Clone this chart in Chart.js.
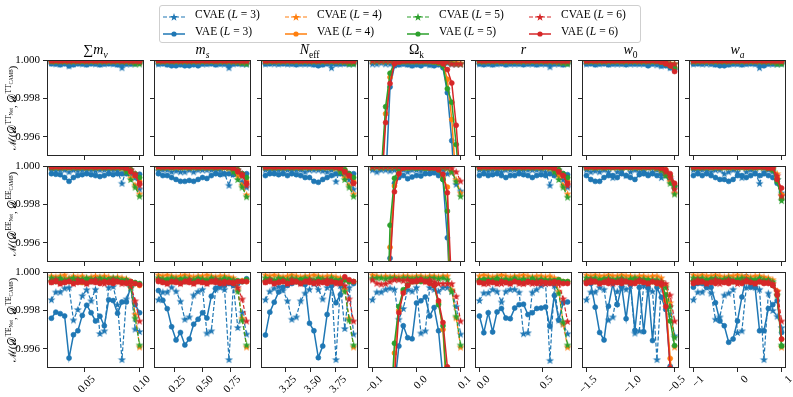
<!DOCTYPE html>
<html><head><meta charset="utf-8">
<script src="https://cdn.jsdelivr.net/npm/chart.js@4.4.1/dist/chart.umd.min.js"></script>
<style>
html,body{margin:0;padding:0;background:#fff;width:793px;height:397px;overflow:hidden;font-family:"Liberation Serif","DejaVu Serif",serif;color:#000;position:relative}
canvas{position:absolute}
.title{position:absolute;text-align:center;font-size:14px;line-height:16px;white-space:nowrap;width:97px}
.ylab{position:absolute;width:150px;height:16px;line-height:16px;text-align:center;font-size:11px;transform:rotate(-90deg);white-space:nowrap}
#legend{position:absolute;left:159px;top:5px;width:480px;height:36px;border:1px solid #cfcfcf;border-radius:3px;background:#fff}
.lg{position:absolute;font-size:11.5px;line-height:13px;white-space:nowrap}
.lgm{position:absolute}
sub,sup{font-size:68%;line-height:0}
</style></head><body>
<div id="legend"></div>
<script>
// ---------------- DATA ----------------
const SERIES = ['CVAE (L = 3)','VAE (L = 3)','CVAE (L = 4)','VAE (L = 4)','CVAE (L = 5)','VAE (L = 5)','CVAE (L = 6)','VAE (L = 6)'];
const LEVELS = [3,4,5,6];
const ROW_SPECTRA = ['TT','EE','TE'];
const PARAM_TITLES = ['∑<i>m</i><sub><i>ν</i></sub>','<i>m</i><sub><i>s</i></sub>','<i>N</i><sub>eff</sub>','Ω<sub>k</sub>','<i>r</i>','<i>w</i><sub>0</sub>','<i>w</i><sub><i>a</i></sub>'];

const X_MNU = [0.02,0.024,0.028,0.032,0.036,0.04,0.044,0.048,0.052,0.056,0.06,0.064,0.068,0.072,0.076,0.08,0.084,0.088,0.092,0.096,0.1];
const X_MS = [0.1,0.14,0.18,0.22,0.26,0.3,0.34,0.38,0.42,0.46,0.5,0.54,0.58,0.62,0.66,0.7,0.74,0.78,0.82,0.86,0.9];
const X_NEFF = [3.046,3.09,3.134,3.178,3.222,3.266,3.31,3.354,3.398,3.442,3.486,3.53,3.574,3.618,3.662,3.706,3.75,3.794,3.838,3.882,3.926];
const X_OK = [-0.1,-0.09,-0.08,-0.07,-0.06,-0.05,-0.04,-0.03,-0.02,-0.01,0,0.01,0.02,0.03,0.04,0.05,0.06,0.07,0.08,0.09,0.1];
const X_R = [0,0.035,0.07,0.105,0.14,0.175,0.21,0.245,0.28,0.315,0.35,0.385,0.42,0.455,0.49,0.525,0.56,0.595,0.63,0.665,0.7];
const X_W0 = [-1.5,-1.45,-1.4,-1.35,-1.3,-1.25,-1.2,-1.15,-1.1,-1.05,-1,-0.95,-0.9,-0.85,-0.8,-0.75,-0.7,-0.65,-0.6,-0.55,-0.5];
const X_WA = [-1,-0.9,-0.8,-0.7,-0.6,-0.5,-0.4,-0.3,-0.2,-0.1,0,0.1,0.2,0.3,0.4,0.5,0.6,0.7,0.8,0.9,1];

const X_RANGES = [[0.016,0.104],[0.06,0.94],[3.002,3.97],[-0.11,0.11],[-0.035,0.735],[-1.55,-0.45],[-1.1,1.1]];
const X_TICKS = [[0.05,0.10],[0.25,0.5,0.75],[3.25,3.5,3.75],[-0.1,0,0.1],[0,0.5],[-1.5,-1,-0.5],[-1,0,1]];
const X_TICK_LABELS = [['0.05','0.10'],['0.25','0.50','0.75'],['3.25','3.50','3.75'],['−0.1','0.0','0.1'],['0.0','0.5'],['−1.5','−1.0','−0.5'],['−1','0','1']];
const Y_RANGE = [0.995,1.0];
const Y_TICKS = [0.996,0.998,1.0];
const Y_TICK_LABELS = ['0.996','0.998','1.000'];

// series order in each panel: CVAE3, VAE3, CVAE4, VAE4, CVAE5, VAE5, CVAE6, VAE6
// ---- TT row ----
const TT_MNU = [
[.99985,.9998,.9998,.99985,.9997,.9998,.99985,.9998,.9998,.99985,.9998,.9998,.9998,.99985,.9998,.9998,.9996,.9998,.9998,.99985,.9999],
[.9998,.9998,.99975,.9998,.9997,.99975,.9998,.9998,.99975,.9998,.9998,.99975,.9998,.9998,.9998,.99975,.99975,.9998,.9998,.9998,.99985],
[.99995,.99996,.99997,.99995,.99996,.99995,.99997,.99996,.99995,.99996,.99997,.99995,.99996,.99995,.99996,.99995,.99996,.99994,.99993,.99992,.9999],
[.99993,.99994,.99993,.99994,.99993,.99994,.99993,.99994,.99993,.99994,.99993,.99994,.99993,.99994,.99993,.99994,.99993,.99994,.99993,.99993,.99992],
[.99996,.99995,.99996,.99995,.99996,.99995,.99996,.99995,.99996,.99995,.99996,.99995,.99996,.99995,.99996,.99995,.99995,.99993,.99991,.9998,.9998],
[.99994,.99995,.99994,.99995,.99994,.99995,.99994,.99995,.99994,.99995,.99994,.99995,.99994,.99995,.99994,.99995,.99994,.99995,.99994,.99993,.99993],
[.99997,.99998,.99997,.99998,.99997,.99998,.99997,.99998,.99997,.99998,.99997,.99998,.99997,.99998,.99997,.99998,.99997,.99997,.99996,.99995,.99994],
[.99996,.99997,.99996,.99997,.99996,.99997,.99996,.99997,.99996,.99997,.99996,.99997,.99996,.99997,.99996,.99997,.99996,.99997,.99996,.99996,.99995]];
const TT_MS = [
[.9998,.99985,.9998,.9998,.99985,.9998,.9998,.9998,.99985,.9998,.9998,.9998,.99985,.9998,.9998,.9998,.9996,.9998,.99985,.9998,.9998],
[.9998,.9998,.99975,.9997,.9997,.99975,.9997,.9997,.99975,.9997,.9998,.9998,.9998,.99975,.9998,.9998,.9997,.9998,.9998,.9998,.9998],
[.99996,.99995,.99996,.99997,.99995,.99996,.99995,.99997,.99996,.99995,.99996,.99995,.99997,.99996,.99995,.99996,.99995,.99994,.99992,.9999,.9999],
[.99994,.99993,.99994,.99993,.99994,.99993,.99994,.99993,.99994,.99993,.99994,.99993,.99994,.99993,.99994,.99993,.99994,.99993,.99994,.99993,.99993],
[.99995,.99996,.99995,.99996,.99995,.99996,.99995,.99996,.99995,.99996,.99995,.99996,.99995,.99996,.99995,.99996,.99995,.99994,.9999,.99985,.9998],
[.99995,.99994,.99995,.99994,.99995,.99994,.99995,.99994,.99995,.99994,.99995,.99994,.99995,.99994,.99995,.99994,.99995,.99994,.99995,.99994,.99993],
[.99998,.99997,.99998,.99997,.99998,.99997,.99998,.99997,.99998,.99997,.99998,.99997,.99998,.99997,.99998,.99997,.99998,.99997,.99996,.99995,.99995],
[.99997,.99996,.99997,.99996,.99997,.99996,.99997,.99996,.99997,.99996,.99997,.99996,.99997,.99996,.99997,.99996,.99997,.99996,.99997,.99996,.99996]];
const TT_NEFF = [
[.9998,.99985,.9998,.9998,.99985,.9998,.9998,.99985,.9998,.9998,.9998,.9998,.9998,.9998,.99985,.9996,.9998,.9998,.99985,.9998,.99985],
[.9998,.9998,.99985,.9998,.9998,.9998,.9998,.99975,.9998,.9998,.9998,.99975,.9997,.99975,.9998,.9998,.9998,.9998,.9998,.9998,.9998],
[.99995,.99996,.99997,.99995,.99996,.99995,.99997,.99996,.99995,.99996,.99997,.99995,.99996,.99995,.99996,.99995,.99996,.99994,.99993,.99991,.9999],
[.99993,.99994,.99993,.99994,.99993,.99994,.99993,.99994,.99993,.99994,.99993,.99994,.99993,.99994,.99993,.99994,.99993,.99994,.99993,.99993,.99992],
[.99996,.99995,.99996,.99995,.99996,.99995,.99996,.99995,.99996,.99995,.99996,.99995,.99996,.99995,.99996,.99995,.99995,.99993,.9999,.9998,.9998],
[.99994,.99995,.99994,.99995,.99994,.99995,.99994,.99995,.99994,.99995,.99994,.99995,.99994,.99995,.99994,.99995,.99994,.99995,.99994,.99993,.99993],
[.99997,.99998,.99997,.99998,.99997,.99998,.99997,.99998,.99997,.99998,.99997,.99998,.99997,.99998,.99997,.99998,.99997,.99997,.99996,.99995,.99994],
[.99996,.99997,.99996,.99997,.99996,.99997,.99996,.99997,.99996,.99997,.99996,.99997,.99996,.99997,.99996,.99997,.99996,.99997,.99996,.99996,.99995]];
const TT_OK = [
[.9998,.9998,.99985,.9998,.9998,.99975,.9998,.9998,.9998,.99975,.9998,.9998,.9998,.99975,.9998,.9998,.9998,.99985,.9998,.9998,.9998],
[.980,.985,.989,.9935,.9986,.9997,.99975,.9998,.99975,.9997,.99975,.9997,.9998,.99975,.9997,.99975,.9996,.9983,.9958,.992,.988],
[.99995,.99996,.99995,.99996,.99995,.99996,.99995,.99996,.99995,.99996,.99995,.99996,.99995,.99996,.99995,.99996,.99995,.99994,.9999,.9999,.99985],
[.983,.988,.9935,.9972,.9991,.99985,.9999,.99992,.99993,.99992,.99993,.99992,.99993,.99992,.9999,.99985,.9998,.999,.9969,.9935,.990],
[.99996,.99995,.99996,.99995,.99996,.99995,.99996,.99995,.99996,.99995,.99996,.99995,.99996,.99995,.99996,.99995,.99994,.9999,.99985,.9998,.9998],
[.984,.989,.9942,.99757,.99931,.99985,.9999,.99993,.99992,.99993,.99992,.99993,.99992,.99993,.9999,.99985,.9997,.9985,.9978,.9956,.993],
[.99997,.99998,.99997,.99998,.99997,.99998,.99997,.99998,.99997,.99998,.99997,.99998,.99997,.99998,.99997,.99998,.99996,.9999,.9998,.9998,.9998],
[.982,.987,.993,.99674,.99878,.9998,.9999,.99995,.99996,.99995,.99996,.99995,.99996,.99995,.99994,.9999,.9998,.9995,.9988,.9966,.9935]];
const TT_R = [
[.9998,.99985,.9998,.9998,.9998,.99985,.9998,.9998,.9998,.9998,.99985,.9998,.9998,.9998,.9998,.9998,.99965,.9998,.9998,.9998,.99985],
[.9998,.99975,.9998,.99975,.9998,.9998,.99975,.9998,.9998,.9998,.99975,.9998,.9998,.99975,.9998,.9998,.9998,.9998,.9998,.99975,.9998],
[.99996,.99995,.99996,.99997,.99995,.99996,.99995,.99997,.99996,.99995,.99996,.99995,.99997,.99996,.99995,.99996,.99995,.99994,.99992,.9999,.9999],
[.99994,.99993,.99994,.99993,.99994,.99993,.99994,.99993,.99994,.99993,.99994,.99993,.99994,.99993,.99994,.99993,.99994,.99993,.99994,.99993,.99993],
[.99995,.99996,.99995,.99996,.99995,.99996,.99995,.99996,.99995,.99996,.99995,.99996,.99995,.99996,.99995,.99996,.99995,.99994,.9999,.99985,.9998],
[.99995,.99994,.99995,.99994,.99995,.99994,.99995,.99994,.99995,.99994,.99995,.99994,.99995,.99994,.99995,.99994,.99995,.99994,.99995,.99994,.99993],
[.99998,.99997,.99998,.99997,.99998,.99997,.99998,.99997,.99998,.99997,.99998,.99997,.99998,.99997,.99998,.99997,.99998,.99997,.99996,.99995,.99995],
[.99997,.99996,.99997,.99996,.99997,.99996,.99997,.99996,.99997,.99996,.99997,.99996,.99997,.99996,.99997,.99996,.99997,.99996,.99997,.99996,.99996]];
const TT_W0 = [
[.9998,.99985,.9998,.9998,.99985,.9998,.9998,.9998,.9998,.99985,.9998,.9998,.9998,.9998,.9998,.9998,.99975,.9997,.9998,.9996,.9995],
[.9998,.9998,.99975,.9998,.9998,.99975,.9998,.9998,.9998,.99975,.9998,.9998,.9998,.9998,.9997,.9998,.9998,.9997,.9997,.9996,.9995],
[.99995,.99996,.99997,.99995,.99996,.99995,.99997,.99996,.99995,.99996,.99997,.99995,.99996,.99995,.99996,.99995,.99996,.99994,.9999,.99985,.9998],
[.99993,.99994,.99993,.99994,.99993,.99994,.99993,.99994,.99993,.99994,.99993,.99994,.99993,.99994,.99993,.99994,.99993,.9999,.99985,.9997,.9996],
[.99996,.99995,.99996,.99995,.99996,.99995,.99996,.99995,.99996,.99995,.99996,.99995,.99996,.99995,.99996,.99995,.99995,.99993,.9999,.9998,.9998],
[.99994,.99995,.99994,.99995,.99994,.99995,.99994,.99995,.99994,.99995,.99994,.99995,.99994,.99995,.99994,.99995,.99994,.9999,.9998,.9997,.9996],
[.99997,.99998,.99997,.99998,.99997,.99998,.99997,.99998,.99997,.99998,.99997,.99998,.99997,.99998,.99997,.99998,.99997,.99995,.9999,.9998,.9998],
[.99996,.99997,.99996,.99997,.99996,.99997,.99996,.99997,.99996,.99997,.99996,.99997,.99996,.99997,.99996,.99997,.99995,.9999,.9998,.9997,.9994]];
const TT_WA = [
[.9998,.99985,.9998,.9998,.9998,.9998,.99985,.9998,.9998,.9998,.9998,.9998,.9998,.99985,.9998,.9996,.9998,.9998,.9998,.9998,.99985],
[.9998,.9998,.9998,.99985,.9998,.99975,.9997,.9997,.99975,.9998,.9998,.99975,.9998,.9998,.9998,.99975,.9997,.9998,.9998,.9998,.9998],
[.99995,.99996,.99997,.99995,.99996,.99995,.99997,.99996,.99995,.99996,.99997,.99995,.99996,.99995,.99996,.99995,.99996,.99994,.99993,.99991,.9999],
[.99993,.99994,.99993,.99994,.99993,.99994,.99993,.99994,.99993,.99994,.99993,.99994,.99993,.99994,.99993,.99994,.99993,.99994,.99993,.99993,.99992],
[.99996,.99995,.99996,.99995,.99996,.99995,.99996,.99995,.99996,.99995,.99996,.99995,.99996,.99995,.99996,.99995,.99995,.99993,.9999,.9998,.9998],
[.99994,.99995,.99994,.99995,.99994,.99995,.99994,.99995,.99994,.99995,.99994,.99995,.99994,.99995,.99994,.99995,.99994,.99995,.99994,.99993,.99993],
[.99997,.99998,.99997,.99998,.99997,.99998,.99997,.99998,.99997,.99998,.99997,.99998,.99997,.99998,.99997,.99998,.99997,.99997,.99996,.99995,.99994],
[.99996,.99997,.99996,.99997,.99996,.99997,.99996,.99997,.99996,.99997,.99996,.99997,.99996,.99997,.99996,.99997,.99996,.99997,.99996,.99996,.99995]];
// ---- EE row ----
const EE_MNU = [
[.9998,.99975,.9998,.9998,.9997,.9998,.99975,.9998,.9998,.9998,.99975,.9998,.9998,.9998,.9998,.99975,.9991,.9998,.9998,.9994,.9988],
[.9996,.99957,.99955,.9994,.9992,.9994,.9995,.99955,.9996,.99955,.9995,.99945,.9995,.9996,.99955,.9996,.9996,.9996,.9996,.99955,.99957],
[.99995,.99996,.99995,.99996,.99995,.99996,.99995,.99996,.99995,.99996,.99995,.99996,.99995,.99996,.99995,.99996,.9999,.9998,.9994,.999,.99855],
[.99993,.99994,.99993,.99994,.99993,.99994,.99993,.99994,.99993,.99994,.99993,.99994,.99993,.99994,.99993,.99994,.99993,.9999,.9998,.9995,.9992],
[.99994,.99995,.99994,.99995,.99994,.99995,.99994,.99995,.99994,.99995,.99994,.99995,.99994,.99995,.99994,.99995,.9999,.9997,.9993,.9989,.99843],
[.99994,.99995,.99994,.99995,.99994,.99995,.99994,.99995,.99994,.99995,.99994,.99995,.99994,.99995,.99994,.99995,.99994,.9999,.9998,.9996,.9994],
[.99997,.99998,.99997,.99998,.99997,.99998,.99997,.99998,.99997,.99998,.99997,.99998,.99997,.99998,.99997,.99998,.99995,.9999,.9998,.9996,.999],
[.99996,.99997,.99996,.99997,.99996,.99997,.99996,.99997,.99996,.99997,.99996,.99997,.99996,.99997,.99996,.99997,.99996,.9999,.9997,.9995,.9991]];
const EE_MS = [
[.99975,.9998,.9998,.9997,.99975,.9997,.9997,.9998,.9997,.9998,.9998,.9998,.9998,.99975,.9998,.9996,.999,.9998,.9998,.9992,.9989],
[.9996,.9995,.9995,.9994,.9993,.9992,.9992,.99925,.9992,.9993,.9994,.99935,.9995,.9996,.99955,.9996,.9996,.99955,.9996,.9996,.9996],
[.99996,.99995,.99996,.99995,.99996,.99995,.99996,.99995,.99996,.99995,.99996,.99995,.99996,.99995,.99996,.99995,.9999,.9998,.9995,.999,.9985],
[.99994,.99993,.99994,.99993,.99994,.99993,.99994,.99993,.99994,.99993,.99994,.99993,.99994,.99993,.99994,.99993,.99993,.9999,.9998,.9995,.9992],
[.99995,.99994,.99995,.99994,.99995,.99994,.99995,.99994,.99995,.99994,.99995,.99994,.99995,.99994,.99995,.99994,.9999,.9997,.9993,.9989,.9984],
[.99995,.99994,.99995,.99994,.99995,.99994,.99995,.99994,.99995,.99994,.99995,.99994,.99995,.99994,.99995,.99994,.99994,.9999,.9998,.9996,.9994],
[.99998,.99997,.99998,.99997,.99998,.99997,.99998,.99997,.99998,.99997,.99998,.99997,.99998,.99997,.99998,.99997,.99995,.9999,.9998,.9996,.999],
[.99997,.99996,.99997,.99996,.99997,.99996,.99997,.99996,.99997,.99996,.99997,.99996,.99997,.99996,.99997,.99996,.99996,.9999,.9997,.9995,.9991]];
const EE_NEFF = [
[.9998,.9998,.99975,.9998,.9998,.9998,.99975,.9998,.9998,.9997,.9998,.9998,.9998,.99975,.9997,.9998,.9992,.9998,.9997,.9993,.9988],
[.9995,.9996,.9996,.99955,.9996,.9995,.9996,.99955,.9995,.9994,.9994,.9992,.99915,.9993,.9994,.9995,.9996,.9996,.99955,.9996,.9996],
[.99995,.99996,.99995,.99996,.99995,.99996,.99995,.99996,.99995,.99996,.99995,.99996,.99995,.99996,.99995,.99996,.9999,.9998,.9994,.999,.99855],
[.99993,.99994,.99993,.99994,.99993,.99994,.99993,.99994,.99993,.99994,.99993,.99994,.99993,.99994,.99993,.99994,.99993,.9999,.9998,.9995,.9992],
[.99994,.99995,.99994,.99995,.99994,.99995,.99994,.99995,.99994,.99995,.99994,.99995,.99994,.99995,.99994,.99995,.9999,.9997,.9993,.9989,.99843],
[.99994,.99995,.99994,.99995,.99994,.99995,.99994,.99995,.99994,.99995,.99994,.99995,.99994,.99995,.99994,.99995,.99994,.9999,.9998,.9996,.9994],
[.99997,.99998,.99997,.99998,.99997,.99998,.99997,.99998,.99997,.99998,.99997,.99998,.99997,.99998,.99997,.99998,.99995,.9999,.9997,.9995,.9991],
[.99996,.99997,.99996,.99997,.99996,.99997,.99996,.99997,.99996,.99997,.99996,.99997,.99996,.99997,.99996,.99997,.99996,.9999,.9997,.9995,.9991]];
const EE_OK = [
[.9998,.9997,.9998,.9998,.99975,.9998,.9998,.9998,.9997,.9998,.9998,.99975,.9998,.9998,.9997,.99975,.9998,.9996,.9997,.99905,.9987],
[.980,.984,.987,.989,.9952,.9991,.9994,.9995,.99934,.99943,.9995,.99948,.9996,.9996,.99965,.9995,.9993,.99626,.9919,.985,.98],
[.99995,.99996,.99995,.99996,.99995,.99996,.99995,.99996,.99995,.99996,.99995,.99996,.99995,.99996,.99995,.99996,.99995,.9999,.9997,.9993,.9986],
[.983,.986,.988,.990,.99577,.99896,.9996,.9999,.9999,.99993,.99993,.99993,.9999,.9999,.9999,.9998,.9994,.9989,.986,.98,.975],
[.99994,.99995,.99994,.99995,.99994,.99995,.99994,.99995,.99994,.99995,.99994,.99995,.99994,.99995,.99994,.99995,.99994,.9999,.9997,.9992,.99843],
[.982,.985,.987,.9886,.99692,.99936,.9998,.9999,.9999,.99993,.9999,.99993,.9999,.9999,.9999,.9998,.9993,.99765,.9915,.985,.98],
[.99997,.99998,.99997,.99998,.99997,.99998,.99997,.99998,.99997,.99998,.99997,.99998,.99997,.99998,.99997,.99998,.99997,.99995,.9999,.9997,.99922],
[.981,.984,.986,.988,.9948,.99866,.9996,.9999,.99995,.99995,.99995,.99995,.99995,.9999,.9999,.9998,.99957,.99861,.99346,.988,.982]];
const EE_R = [
[.9998,.9998,.99975,.9998,.9998,.9997,.9998,.9998,.9998,.99975,.9998,.9998,.9998,.9998,.9998,.9997,.999,.9998,.9998,.9993,.9989],
[.9995,.9996,.9995,.99955,.9996,.9995,.9994,.9995,.9995,.9996,.99955,.9995,.9994,.9995,.99955,.9995,.9996,.9995,.99955,.9996,.99955],
[.99995,.99996,.99995,.99996,.99995,.99996,.99995,.99996,.99995,.99996,.99995,.99996,.99995,.99996,.99995,.99996,.9999,.9998,.9995,.999,.99855],
[.99993,.99994,.99993,.99994,.99993,.99994,.99993,.99994,.99993,.99994,.99993,.99994,.99993,.99994,.99993,.99994,.99993,.9999,.9998,.9995,.9992],
[.99994,.99995,.99994,.99995,.99994,.99995,.99994,.99995,.99994,.99995,.99994,.99995,.99994,.99995,.99994,.99995,.9999,.9997,.9993,.9989,.99838],
[.99994,.99995,.99994,.99995,.99994,.99995,.99994,.99995,.99994,.99995,.99994,.99995,.99994,.99995,.99994,.99995,.99994,.9999,.9998,.9996,.9994],
[.99997,.99998,.99997,.99998,.99997,.99998,.99997,.99998,.99997,.99998,.99997,.99998,.99997,.99998,.99997,.99998,.99995,.9999,.9997,.9995,.9990],
[.99996,.99997,.99996,.99997,.99996,.99997,.99996,.99997,.99996,.99997,.99996,.99997,.99996,.99997,.99996,.99997,.99996,.9999,.9997,.9995,.9991]];
const EE_W0 = [
[.9998,.9997,.99975,.9997,.9998,.9997,.9994,.9997,.9998,.9995,.9997,.9998,.9997,.9998,.9996,.9997,.9998,.9994,.9997,.9993,.9989],
[.9995,.9993,.9992,.9992,.9994,.9995,.9995,.9994,.9996,.9995,.9994,.9993,.99955,.9996,.9995,.9996,.9995,.9996,.9995,.9994,.999],
[.99995,.99996,.99995,.99996,.99995,.99996,.99995,.99996,.99995,.99996,.99995,.99996,.99995,.99996,.99995,.99996,.9999,.9998,.9996,.9992,.9986],
[.99993,.99994,.99993,.99994,.99993,.99994,.99993,.99994,.99993,.99994,.99993,.99994,.99993,.99994,.99993,.99994,.99993,.9999,.9998,.9995,.999],
[.99994,.99995,.99994,.99995,.99994,.99995,.99994,.99995,.99994,.99995,.99994,.99995,.99994,.99995,.99994,.99995,.9999,.9998,.9995,.9991,.99854],
[.99994,.99995,.99994,.99995,.99994,.99995,.99994,.99995,.99994,.99995,.99994,.99995,.99994,.99995,.99994,.99995,.99994,.9999,.9997,.9995,.99896],
[.99997,.99998,.99997,.99998,.99997,.99998,.99997,.99998,.99997,.99998,.99997,.99998,.99997,.99998,.99997,.99998,.99995,.9999,.9997,.9994,.9988],
[.99996,.99997,.99996,.99997,.99996,.99997,.99996,.99997,.99996,.99997,.99996,.99997,.99996,.99997,.99996,.99997,.99996,.9999,.9998,.9996,.9991]];
const EE_WA = [
[.9998,.99975,.9998,.9998,.9997,.9998,.9998,.9996,.9997,.9998,.9997,.9994,.9997,.9998,.9997,.9991,.9997,.9998,.9997,.9993,.9986],
[.9995,.9996,.9995,.9996,.9995,.9994,.9993,.9993,.9992,.9993,.9995,.9995,.9994,.9995,.9996,.9995,.9996,.9995,.9994,.9991,.9985],
[.99995,.99996,.99995,.99996,.99995,.99996,.99995,.99996,.99995,.99996,.99995,.99996,.99995,.99996,.99995,.99996,.99995,.9999,.9999,.9996,.9985],
[.99993,.99994,.99993,.99994,.99993,.99994,.99993,.99994,.99993,.99994,.99993,.99994,.99993,.99994,.99993,.99994,.99993,.9999,.9999,.9994,.9985],
[.99994,.99995,.99994,.99995,.99994,.99995,.99994,.99995,.99994,.99995,.99994,.99995,.99994,.99995,.99994,.99995,.99994,.9999,.9998,.9993,.9982],
[.99994,.99995,.99994,.99995,.99994,.99995,.99994,.99995,.99994,.99995,.99994,.99995,.99994,.99995,.99994,.99995,.99994,.9999,.9998,.9992,.9983],
[.99997,.99998,.99997,.99998,.99997,.99998,.99997,.99998,.99997,.99998,.99997,.99998,.99997,.99998,.99997,.99998,.99997,.99995,.9999,.9995,.99844],
[.99996,.99997,.99996,.99997,.99996,.99997,.99996,.99997,.99996,.99997,.99996,.99997,.99996,.99997,.99996,.99997,.99996,.9999,.9999,.9993,.99885]];
// ---- TE row ----
const TE_MNU = [
[.99856,.99896,.99896,.99916,.9992,.9975,.99805,.99877,.99908,.9985,.9991,.9968,.99694,.9992,.99925,.9983,.99544,.9986,.9992,.99703,.9969],
[.99759,.99791,.99783,.99771,.99552,.99673,.99694,.99774,.99827,.99788,.99745,.9977,.9972,.99856,.99851,.99785,.99844,.99844,.99925,.9983,.99788],
[.9998,.99975,.9998,.99985,.9997,.9998,.99975,.9998,.9997,.99975,.9998,.99975,.9998,.99975,.9997,.99975,.9997,.99965,.9993,.9978,.9961],
[.9995,.99955,.9995,.9996,.9995,.99955,.9995,.99945,.9995,.9996,.9995,.99955,.9995,.9995,.99955,.9995,.9995,.99955,.9995,.9994,.9993],
[.9997,.99965,.9997,.9996,.99965,.9997,.9996,.99965,.9997,.99965,.9996,.9997,.99965,.9996,.9997,.99965,.9996,.9996,.9992,.9976,.9962],
[.99955,.9995,.9996,.9995,.99955,.9995,.9996,.9995,.99955,.9995,.9996,.99955,.9995,.9996,.9995,.99955,.9995,.99955,.9995,.99945,.9994],
[.9995,.9996,.9994,.9995,.99955,.9994,.9996,.9995,.9994,.9995,.9996,.9995,.9994,.9995,.9996,.9995,.9994,.9995,.9993,.9985,.99745],
[.99945,.9995,.9994,.99945,.9995,.9994,.99945,.9995,.9994,.9995,.99945,.9994,.9995,.99945,.9994,.9995,.99945,.9994,.9995,.9994,.99933]];
const TE_MS = [
[.99856,.99896,.99896,.99921,.999,.99848,.99754,.99766,.9988,.99899,.9991,.99682,.99694,.9991,.9992,.9991,.99544,.9993,.99711,.9979,.99677],
[.99903,.99853,.99809,.99715,.99646,.99685,.9962,.99651,.99728,.99754,.99788,.9976,.99874,.99916,.99933,.9993,.9994,.9993,.9994,.9995,.99965],
[.99985,.9998,.99985,.9998,.99975,.9998,.99985,.9998,.99975,.9998,.9998,.99985,.9998,.99975,.9998,.9998,.99975,.9997,.9991,.9976,.9961],
[.9996,.9995,.99955,.9995,.9996,.9995,.99955,.9995,.9995,.99955,.9995,.9996,.9995,.99955,.9995,.9995,.99955,.9995,.9995,.99955,.9995],
[.9997,.99965,.9996,.9997,.99965,.9996,.9997,.99965,.9996,.9997,.99965,.9996,.9997,.99965,.9996,.9997,.9996,.9996,.999,.9975,.9962],
[.99955,.9995,.9996,.9995,.99955,.9996,.9995,.99955,.9995,.9996,.99955,.9995,.9996,.9995,.99955,.9995,.9996,.9995,.99955,.9995,.9996],
[.9996,.9995,.9994,.9995,.99955,.9994,.9995,.9996,.9994,.9995,.9995,.9994,.9995,.9996,.9995,.9994,.9995,.9995,.9992,.9986,.99745],
[.9995,.99945,.9994,.9995,.99945,.9994,.9995,.99945,.9994,.9995,.99945,.9994,.9995,.99945,.9994,.9995,.99945,.9994,.9995,.9995,.9995]];
const TE_NEFF = [
[.99856,.999,.99916,.99925,.99905,.9985,.99754,.99766,.9985,.9989,.9991,.9994,.9991,.9986,.9992,.9994,.99544,.9993,.99706,.9992,.99677],
[.99672,.99791,.99843,.99896,.99921,.9993,.9994,.9995,.9994,.99935,.99733,.99694,.99554,.99614,.99779,.99928,.9984,.99882,.9996,.9995,.9994],
[.99985,.9998,.99985,.9998,.99975,.9998,.99985,.9998,.99975,.9998,.9998,.99985,.9998,.99975,.9998,.9998,.99975,.9997,.9991,.9976,.9961],
[.9995,.99955,.9995,.9996,.9995,.99955,.9995,.9995,.99955,.9995,.9996,.9995,.9995,.99955,.9995,.9995,.99955,.9995,.9996,.9995,.9995],
[.9997,.99965,.9996,.9997,.99965,.9996,.9997,.99965,.9996,.9997,.99965,.9996,.9997,.99965,.9996,.9997,.9996,.9996,.999,.9975,.9962],
[.99955,.9996,.9995,.99955,.9996,.9995,.99955,.9995,.9996,.9995,.99955,.9995,.9996,.9995,.99955,.9995,.9995,.99955,.9996,.9995,.9995],
[.9995,.9996,.9994,.9995,.99955,.9994,.9996,.9995,.9994,.9995,.9996,.9995,.9994,.9995,.9996,.9995,.9994,.9995,.9993,.9986,.99745],
[.99945,.9995,.9994,.99945,.9995,.9994,.99945,.9995,.9994,.9995,.99945,.9994,.9995,.99945,.9994,.9995,.99945,.9994,.99975,.9996,.9995]];
const TE_OK = [
[.99856,.99896,.99896,.9991,.99916,.9991,.99754,.9981,.9991,.999,.9992,.99682,.99694,.9992,.9991,.999,.9992,.9992,.999,.9982,.99677],
[.975,.978,.981,.985,.989,.994,.99614,.9972,.99658,.99652,.99839,.9985,.9987,.99771,.99815,.99694,.9945,.990,.985,.98,.975],
[.99985,.9998,.99975,.9998,.99975,.9998,.99975,.9998,.9998,.99975,.9998,.9998,.99975,.9998,.9998,.99975,.9998,.9998,.99908,.99762,.99609],
[.975,.979,.983,.987,.991,.99578,.998,.999,.9993,.9995,.9995,.99955,.9995,.9995,.9993,.9984,.997,.993,.988,.982,.977],
[.99968,.9997,.9997,.99965,.9997,.9997,.99965,.9997,.9997,.99965,.9997,.9997,.99965,.9997,.9997,.99965,.9997,.9996,.999,.9977,.9962],
[.976,.98,.984,.988,.992,.99629,.9982,.99908,.99933,.9995,.9995,.9995,.99955,.9995,.9993,.9983,.9972,.9935,.989,.983,.978],
[.99959,.99942,.99937,.9994,.9995,.9996,.9996,.99955,.9996,.9995,.9996,.9996,.9995,.9996,.9995,.9994,.9994,.9994,.9994,.99874,.99745],
[.974,.978,.982,.986,.99,.9945,.99788,.9989,.9993,.9995,.9995,.9996,.9995,.9994,.9993,.9985,.99737,.99506,.99,.985,.98]];
const TE_R = [
[.99852,.99891,.99892,.9991,.999,.99844,.999,.9991,.9991,.99895,.99679,.99684,.99895,.9991,.9993,.9994,.9954,.9993,.9975,.9973,.99679],
[.99771,.99684,.99788,.99688,.99792,.9981,.9976,.99757,.99812,.9983,.99832,.99778,.99788,.9981,.99812,.99818,.99717,.99878,.9975,.9984,.99844],
[.9998,.99985,.9998,.99975,.9998,.99985,.9998,.99975,.9998,.9998,.99985,.9998,.99975,.9998,.9998,.99975,.9998,.9997,.999,.9973,.99609],
[.9995,.99955,.9995,.9996,.9995,.99955,.9995,.9995,.99955,.9995,.9996,.9995,.9995,.99955,.9995,.9995,.99955,.9995,.9996,.9995,.9995],
[.9996,.9996,.99965,.9996,.9997,.9996,.99965,.9996,.9997,.9996,.99965,.9996,.9997,.9996,.99965,.9996,.9996,.9995,.9989,.9974,.9962],
[.99955,.9996,.9995,.99955,.9996,.9995,.99955,.9995,.9996,.9995,.99955,.9995,.9996,.9995,.99955,.9995,.9995,.99955,.9996,.9995,.9995],
[.9995,.9994,.9994,.9995,.9994,.9994,.99945,.9994,.9995,.9994,.9994,.99945,.9994,.9995,.9994,.9994,.9995,.9994,.9994,.99861,.99743],
[.99945,.9994,.9995,.99945,.9994,.9995,.99945,.9994,.9995,.99945,.9994,.9995,.99945,.9994,.9995,.99945,.9994,.9995,.99945,.9994,.9994]];
const TE_W0 = [
[.99856,.99896,.99896,.9992,.9991,.9975,.99766,.999,.9992,.9991,.9993,.99682,.99694,.9993,.9991,.999,.99544,.9993,.9985,.9978,.99668],
[.99945,.9994,.99817,.99685,.99646,.99822,.9994,.9983,.99925,.99757,.99938,.99696,.9992,.99689,.9992,.99643,.9992,.99868,.99805,.99509,.993],
[.99985,.9998,.99985,.9998,.9998,.99985,.9998,.9998,.99985,.9998,.9998,.99975,.9998,.9998,.99975,.9998,.9998,.9997,.9993,.9984,.9961],
[.9995,.99955,.9995,.9996,.9995,.99955,.9995,.9995,.99955,.9995,.9996,.9995,.9995,.99955,.9995,.9995,.9994,.9993,.9985,.9955,.993],
[.9997,.99965,.9997,.9996,.99965,.9997,.9996,.99965,.9997,.9996,.99965,.9997,.9996,.99965,.9996,.9996,.9996,.9995,.9992,.9982,.9966],
[.99955,.9996,.9995,.99955,.9996,.9995,.99955,.9995,.9996,.9995,.99955,.9995,.9996,.9995,.99955,.9995,.9995,.9994,.9988,.99745,.99617],
[.9995,.9996,.9995,.9994,.9995,.9996,.9994,.9995,.9996,.9995,.9994,.9995,.9996,.9995,.9994,.9995,.9995,.9995,.9994,.9988,.99745],
[.9994,.99945,.9995,.9994,.99945,.9994,.9995,.99945,.9994,.9995,.99945,.9994,.9995,.99945,.9994,.9995,.9994,.99935,.9982,.995,.993]];
const TE_WA = [
[.99856,.99896,.99896,.9992,.9989,.99754,.99766,.9988,.9989,.9991,.99685,.99694,.9992,.9993,.9992,.9991,.99544,.9989,.998,.9977,.9971],
[.99921,.9994,.9994,.9992,.9992,.9984,.99745,.9972,.99634,.99651,.99745,.9987,.99976,.9992,.9992,.99694,.99694,.9981,.9983,.9985,.99685],
[.99985,.9998,.99985,.9998,.9998,.99985,.9998,.99975,.9998,.9998,.99985,.9998,.9998,.99975,.9998,.9998,.99975,.9997,.9996,.999,.99609],
[.9995,.99955,.9995,.9996,.9995,.99955,.9995,.9995,.99955,.9995,.9996,.9995,.9995,.99955,.9995,.9995,.99955,.9995,.9994,.999,.9965],
[.9997,.99965,.9997,.9996,.99965,.9997,.9996,.99965,.9997,.9996,.99965,.9997,.9996,.99965,.9996,.9997,.9996,.9996,.9995,.9988,.9962],
[.99955,.9996,.9995,.99955,.9996,.9995,.99955,.9995,.9996,.9995,.99955,.9995,.9996,.9995,.99955,.9995,.9995,.99955,.9993,.9988,.99614],
[.9995,.9996,.9995,.9994,.9995,.9996,.9994,.9995,.9996,.9995,.9994,.9995,.9996,.9995,.9994,.9995,.9995,.9995,.9994,.999,.99745],
[.9994,.99945,.9995,.9994,.99945,.9994,.9995,.99945,.9994,.9995,.99945,.9994,.9995,.99945,.9994,.9995,.9994,.9994,.9993,.9988,.99651]];

const X_VALUES = [X_MNU, X_MS, X_NEFF, X_OK, X_R, X_W0, X_WA];
const PANELS = [
  [TT_MNU, TT_MS, TT_NEFF, TT_OK, TT_R, TT_W0, TT_WA],
  [EE_MNU, EE_MS, EE_NEFF, EE_OK, EE_R, EE_W0, EE_WA],
  [TE_MNU, TE_MS, TE_NEFF, TE_OK, TE_R, TE_W0, TE_WA]];

// ---------------- LAYOUT / STYLE ----------------
const COLORS = ['#1f77b4','#ff7f0e','#2ca02c','#d62728'];
const PANEL_LEFT = [47,154,261,368,475,582,689];
const PANEL_TOP = [60,166,272];
const PW = 97, PH = 96, YW = 48, XH = 38, PT = 6, PR = 10;
const FONT = {family: '"Liberation Serif", "DejaVu Serif", serif', size: 11};

function makeStar(color){
  const s = document.createElement('canvas'); s.width = 9; s.height = 9;
  const g = s.getContext('2d'); g.fillStyle = color; g.beginPath();
  for (let k = 0; k < 10; k++) { const rr = k % 2 ? 1.7 : 4.2; const a = -Math.PI/2 + k*Math.PI/5; g.lineTo(4.5 + rr*Math.cos(a), 4.9 + rr*Math.sin(a)); }
  g.closePath(); g.fill(); return s;
}
const STARS = COLORS.map(makeStar);

const framePlugin = {
  id: 'frame',
  afterDraw(chart) {
    const {ctx, chartArea: a} = chart;
    ctx.save(); ctx.strokeStyle = '#262626'; ctx.lineWidth = 1;
    ctx.strokeRect(Math.round(a.left) + 0.5, Math.round(a.top) + 0.5, Math.round(a.right - a.left) - 1, Math.round(a.bottom - a.top) - 1);
    ctx.restore();
  }
};

function buildDatasets(panel, xs) {
  const ds = [];
  for (let s = 0; s < 8; s++) {
    const li = Math.floor(s / 2), isVAE = s % 2 === 1, col = COLORS[li];
    ds.push({
      label: SERIES[s],
      order: 8 - s,
      data: xs.map((x, i) => ({x: x, y: panel[s][i]})),
      borderColor: col, backgroundColor: col,
      borderWidth: isVAE ? 1.5 : 1.2,
      borderDash: isVAE ? [] : [4, 2],
      pointStyle: isVAE ? 'circle' : STARS[li],
      pointRadius: isVAE ? 2.5 : 3,
      pointBorderWidth: isVAE ? 0.6 : 0,
      pointBackgroundColor: col, pointBorderColor: col,
      fill: false, tension: 0
    });
  }
  return ds;
}

for (let r = 0; r < 3; r++) {
  for (let c = 0; c < 7; c++) {
    const cv = document.createElement('canvas');
    cv.width = YW + PW + PR; cv.height = PT + PH + XH;
    cv.style.left = (PANEL_LEFT[c] - YW) + 'px'; cv.style.top = (PANEL_TOP[r] - PT) + 'px';
    cv.style.width = cv.width + 'px'; cv.style.height = cv.height + 'px';
    document.body.appendChild(cv);
    const xr = X_RANGES[c];
    new Chart(cv, {
      type: 'line',
      data: {datasets: buildDatasets(PANELS[r][c], X_VALUES[c])},
      options: {
        responsive: false, animation: false, events: [],
        layout: {padding: {top: PT, right: PR, left: 0, bottom: 0}},
        plugins: {legend: {display: false}, tooltip: {enabled: false}},
        scales: {
          x: {
            type: 'linear', min: xr[0], max: xr[1],
            afterBuildTicks: s => { s.ticks = X_TICKS[c].map(v => ({value: v})); },
            afterFit: s => { s.height = XH; s.paddingLeft = 0; s.paddingRight = 0; },
            ticks: {display: r === 2, callback: (v, i) => X_TICK_LABELS[c][i], font: FONT, color: '#000',
                    minRotation: 45, maxRotation: 45, autoSkip: false, padding: 1, labelOffset: 9},
            grid: {drawOnChartArea: false, drawTicks: true, tickLength: 4, color: '#262626', lineWidth: 1},
            border: {display: false}
          },
          y: {
            type: 'linear', min: Y_RANGE[0], max: Y_RANGE[1],
            afterBuildTicks: s => { s.ticks = Y_TICKS.map(v => ({value: v})); },
            afterFit: s => { s.width = YW; s.paddingTop = 0; s.paddingBottom = 0; },
            ticks: {display: c === 0, callback: (v, i) => Y_TICK_LABELS[i], font: FONT, color: '#000', padding: 3},
            grid: {drawOnChartArea: false, drawTicks: true, tickLength: 4, color: '#262626', lineWidth: 1},
            border: {display: false}
          }
        }
      },
      plugins: [framePlugin]
    });
  }
}

// titles
PARAM_TITLES.forEach((t, c) => {
  const d = document.createElement('div'); d.className = 'title';
  d.style.left = PANEL_LEFT[c] + 'px'; d.style.top = '42px';
  d.innerHTML = t; document.body.appendChild(d);
});
// y labels
ROW_SPECTRA.forEach((s, r) => {
  const d = document.createElement('div'); d.className = 'ylab';
  d.style.left = (12 - 75) + 'px'; d.style.top = (PANEL_TOP[r] + PH/2 - 8) + 'px';
  d.innerHTML = 'ℳ(𝒟<sup>' + s + '<sub>Net</sub></sup>, 𝒟<sup>' + s + '<sub>CAMB</sub></sup>)';
  document.body.appendChild(d);
});
// legend
function starPts(cx, cy, R, rr) { let p = []; for (let k = 0; k < 10; k++) { const rad = k % 2 ? rr : R; const a = -Math.PI/2 + k*Math.PI/5; p.push((cx + rad*Math.cos(a)).toFixed(2) + ',' + (cy + rad*Math.sin(a)).toFixed(2)); } return p.join(' '); }
const LEG_X = [163, 285, 407, 529], LEG_Y = [15, 31.5];
SERIES.forEach((lab, s) => {
  const li = Math.floor(s / 2), isVAE = s % 2 === 1, col = COLORS[li];
  const x = LEG_X[li], y = LEG_Y[isVAE ? 1 : 0];
  const m = document.createElement('div'); m.className = 'lgm';
  m.style.left = x + 'px'; m.style.top = (y - 6) + 'px';
  const marker = isVAE ? '<circle cx="11" cy="6" r="2.6" fill="' + col + '"/>' : '<polygon points="' + starPts(11, 6.3, 4.2, 1.7) + '" fill="' + col + '"/>';
  m.innerHTML = '<svg width="22" height="12"><line x1="0" y1="6" x2="22" y2="6" stroke="' + col + '" stroke-width="' + (isVAE ? 1.5 : 1.2) + '"' + (isVAE ? '' : ' stroke-dasharray="4,2"') + '/>' + marker + '</svg>';
  document.body.appendChild(m);
  const t = document.createElement('div'); t.className = 'lg';
  t.style.left = (x + 32) + 'px'; t.style.top = (y - 7) + 'px';
  t.innerHTML = lab.replace('L', '<i>L</i>');
  document.body.appendChild(t);
});
</script>
</body></html>
